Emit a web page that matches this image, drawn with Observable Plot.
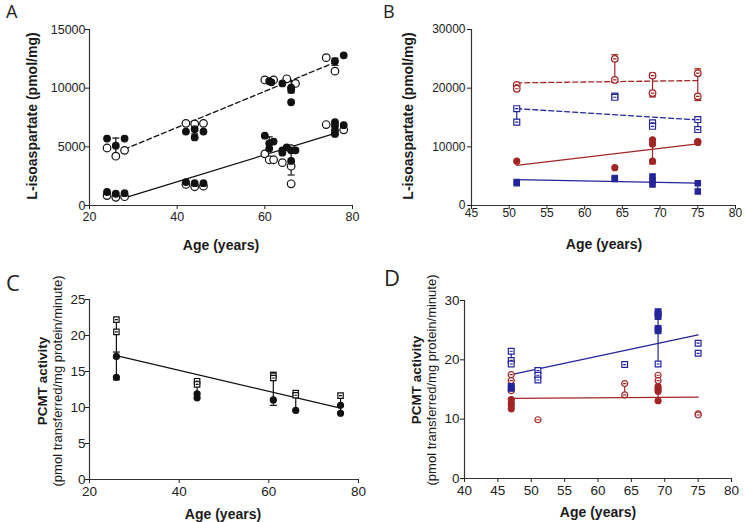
<!DOCTYPE html>
<html><head><meta charset="utf-8">
<script src="https://cdn.jsdelivr.net/npm/d3@7"></script>
<script src="https://cdn.jsdelivr.net/npm/@observablehq/plot@0.6"></script>
<style>
body{margin:0;background:#fff;}
#fig{position:relative;width:745px;height:522px;font-family:"Liberation Sans",Arial,sans-serif;color:#1a1a1a;overflow:hidden;background:#fff}
.panel{position:absolute}
.letter{position:absolute;font-family:"Open Sans","Liberation Sans",sans-serif;line-height:1;color:#222}
.xt{position:absolute;font-weight:bold;font-size:14px;transform:translate(-50%,-50%);white-space:nowrap;line-height:1}
.yt{position:absolute;transform:translate(-50%,-50%) rotate(-90deg);white-space:nowrap;text-align:center}
</style></head>
<body>
<div id="fig">
  <div class="panel" id="pA" style="left:0;top:0"></div>
  <div class="panel" id="pB" style="left:372px;top:0"></div>
  <div class="panel" id="pC" style="left:0;top:260px"></div>
  <div class="panel" id="pD" style="left:372px;top:260px"></div>
  <div class="letter" style="left:6px;top:2px;font-size:18px">A</div>
  <div class="letter" style="left:383px;top:2px;font-size:18px">B</div>
  <div class="letter" style="left:6px;top:271px;font-size:22px">C</div>
  <div class="letter" style="left:384px;top:266px;font-size:22px">D</div>
  <div class="yt" style="left:32px;top:116px;font-weight:bold;font-size:14px">L-isoaspartate (pmol/mg)</div>
  <div class="yt" style="left:408px;top:116px;font-weight:bold;font-size:14px">L-isoaspartate (pmol/mg)</div>
  <div class="yt" style="left:50px;top:381px;line-height:14.5px"><div style="font-weight:bold;font-size:13.5px">PCMT activity</div><div style="font-size:13px">(pmol transferred/mg protein/minute)</div></div>
  <div class="yt" style="left:424px;top:380px;line-height:14.5px"><div style="font-weight:bold;font-size:13.5px">PCMT activity</div><div style="font-size:13px">(pmol transferred/mg protein/minute)</div></div>
  <div class="xt" style="left:221px;top:245px">Age (years)</div>
  <div class="xt" style="left:604px;top:244px">Age (years)</div>
  <div class="xt" style="left:223px;top:514px">Age (years)</div>
  <div class="xt" style="left:598px;top:512px">Age (years)</div>
</div>
<script>
// ---------- Panel A data: [age, L-isoaspartate] ----------
const aUpperFilled = [[24,5700],[26,5100],[28,5700],[42,6300],[44,5800],[44,6500],[46,6300],[61,10600],[61.5,10500],[64,10400],[66,10050],[66,9850],[66,8800],[76,12300],[78,12800]];
const aUpperOpen   = [[24,4900],[26,4200],[28,4700],[42,7000],[44,6950],[46,7000],[60,10700],[62,10700],[65,10800],[67,10400],[74,12600],[76,11450]];
const aLowerFilled = [[24,1150],[26,1000],[28,1050],[42,2000],[44,1900],[46,1900],[60,5950],[61,5300],[61,4850],[62,5450],[64,4700],[64,4500],[65,4950],[66,4700],[66,3800],[67,4700],[76,7100],[76,6800],[76,6400],[76,6100],[78,6850]];
const aLowerOpen   = [[24,850],[26,700],[28,750],[42,1800],[44,1600],[46,1650],[60,4400],[61,3900],[62,3900],[64,3650],[66,4850],[66,3350],[66,1850],[74,6900],[78,6450]];
const aFitDashed = [[28,4800],[76,12200]];
const aFitSolid  = [[28,650],[76,6150]];
const aErr = [[26,4400,5750],[44,6100,7150],[66,9600,10600],[76,11950,12550],[61,4800,5850],[66,2600,5050]];

// ---------- Panel B data ----------
const bRedOpen    = [[51,20550],[51,19900],[64,25000],[64,21400],[69,22150],[69,19150],[75,22550],[75,18600]];
const bRedFilled  = [[51,7550],[64,6450],[69,11200],[69,10500],[69,7550],[75,10900],[75,10750]];
const bBlueOpen   = [[51,16500],[51,14200],[64,18650],[64,18450],[69,14100],[69,13500],[75,14650],[75,12950]];
const bBlueFilled = [[51,4000],[51,3800],[64,4700],[64,4500],[69,4950],[69,4300],[69,3600],[75,3800],[75,2400]];
const bRedDashFit  = [[51,20900],[75,21300]];
const bRedFit      = [[51,6850],[75,10500]];
const bBlueDashFit = [[51,16500],[75,14600]];
const bBlueFit     = [[51,4400],[75,3800]];
const bRedErr   = [[64,21000,25700],[69,18500,22550],[75,17900,23300],[69,7100,11300]];
const bBlueLink = [[51,14200,16500],[69,13500,14100],[75,12950,14650],[69,3600,4950],[75,2400,3800]];

// ---------- Panel C data ----------
const cOpen   = [[26,22.2],[26,20.5],[44,13.65],[44,13.2],[61,14.4],[61,14.1],[66,12.0],[66,11.7],[76,11.65]];
const cFilled = [[26,17.1],[26,14.2],[44,11.9],[44,11.35],[61,11.05],[66,9.6],[76,10.3],[76,9.2]];
const cFit  = [[26,17.2],[76,9.9]];
const cErr  = [[26,13.85,17.7],[61,10.3,14.9]];
const cLink = [[26,17.7,22.2],[44,11.35,13.65],[66,9.6,12.0],[76,9.2,11.65]];

// ---------- Panel D data ----------
const dBlueOpen   = [[47,21.45],[47,19.9],[47,19.3],[51,18.2],[51,17.4],[51,16.6],[64,19.2],[69,19.3],[75,22.8],[75,21.1]];
const dBlueFilled = [[47,15.5],[47,15.2],[69,28.1],[69,27.7],[69,27.3],[69,25.3],[69,24.9]];
const dRedOpen    = [[47,17.5],[47,16.5],[47,14.8],[51,9.9],[64,16.0],[64,14.1],[69,17.4],[69,16.5],[75,10.9],[75,10.7]];
const dRedFilled  = [[47,13.3],[47,12.75],[47,12.3],[47,11.75],[69,15.5],[69,15.1],[69,14.7],[69,13.1]];
const dBlueFit = [[47,17.5],[75,24.2]];
const dRedFit  = [[47,13.5],[75,13.7]];
const dBlueLink = [[47,19.3,21.45],[51,16.6,18.2],[69,19.3,28.1]];
const dRedLink  = [[64,14.1,16.0],[69,13.1,17.4]];

// ---------- axes ----------
const aXTicks = [20,40,60,80], aYTicks = [0,5000,10000,15000];
const bXTicks = [45,50,55,60,65,70,75,80], bYTicks = [0,10000,20000,30000];
const cXTicks = [20,40,60,80], cYTicks = [0,5,10,15,20,25];
const dXTicks = [40,45,50,55,60,65,70,75,80], dYTicks = [0,10,20,30];

const RED = "#a12626", BLUE = "#25259a", BLACK = "#111";
const X = d => d[0], Y = d => d[1], LO = d => d[1], HI = d => d[2];

const capSym = {draw(ctx, size){const w = Math.sqrt(size/Math.PI); ctx.moveTo(-w,0); ctx.lineTo(w,0);}};
const sqMid = {draw(ctx, size){const h = Math.sqrt(size/Math.PI)*0.9;
  ctx.moveTo(-h,-h); ctx.lineTo(h,-h); ctx.lineTo(h,h); ctx.lineTo(-h,h); ctx.closePath();
  ctx.moveTo(-h*0.55,0); ctx.lineTo(h*0.55,0);}};
const ciMid = {draw(ctx, size){const r = Math.sqrt(size/Math.PI);
  ctx.moveTo(r,0); ctx.arc(0,0,r,0,2*Math.PI); ctx.moveTo(-r*0.55,0); ctx.lineTo(r*0.55,0);}};

function errMarks(arr, color, r, caps) {
  const m = [Plot.ruleX(arr, {x: X, y1: LO, y2: HI, stroke: color, strokeWidth: 1.2})];
  if (caps) {
    m.push(Plot.dot(arr, {x: X, y: LO, symbol: capSym, r, stroke: color, fill: "none", strokeWidth: 1.2}));
    m.push(Plot.dot(arr, {x: X, y: HI, symbol: capSym, r, stroke: color, fill: "none", strokeWidth: 1.2}));
  }
  return m;
}
function fit(arr, color, dashed) {
  return Plot.line(arr, {x: X, y: Y, stroke: color, strokeWidth: 1.3, strokeDasharray: dashed ? "5,3" : null});
}
function pts(arr, color, symbol, filled, r) {
  return Plot.dot(arr, {x: X, y: Y, symbol, r, stroke: color, fill: filled ? color : "white", strokeWidth: 1.2});
}

function panel(o) {
  return Plot.plot({
    width: o.width, height: o.height,
    marginLeft: o.ml, marginRight: o.mr, marginTop: o.mt, marginBottom: o.mb,
    style: {fontFamily: "Liberation Sans, Arial, sans-serif", fontSize: o.fs, color: "#222", background: "transparent", overflow: "visible"},
    x: {domain: [o.xt[0], o.xt[o.xt.length-1]], ticks: o.xt, tickFormat: "d", tickSize: 4, tickPadding: o.xpad, label: null},
    y: {domain: [o.yt[0], o.yt[o.yt.length-1]], ticks: o.yt, tickFormat: "d", tickSize: 4, tickPadding: o.ypad, label: null},
    marks: [
      Plot.ruleX([o.xt[0]], {stroke: "#333", strokeWidth: 1.2}),
      Plot.ruleY([o.yt[0]], {stroke: "#333", strokeWidth: 1.2}),
      ...o.marks
    ]
  });
}

document.getElementById("pA").append(panel({
  width: 372, height: 260, ml: 89, mr: 20, mt: 29, mb: 55, fs: "12.5px", xpad: 3, ypad: 0,
  xt: aXTicks, yt: aYTicks,
  marks: [
    fit(aFitDashed, BLACK, true), fit(aFitSolid, BLACK, false),
    ...errMarks(aErr, BLACK, 3.5, true),
    pts(aUpperOpen, BLACK, "circle", false, 3.8), pts(aLowerOpen, BLACK, "circle", false, 3.8),
    pts(aUpperFilled, BLACK, "circle", true, 3.3), pts(aLowerFilled, BLACK, "circle", true, 3.3)
  ]
}));

document.getElementById("pB").append(panel({
  width: 373, height: 260, ml: 99, mr: 10, mt: 29, mb: 55, fs: "12px", xpad: -1, ypad: 2,
  xt: bXTicks, yt: bYTicks,
  marks: [
    fit(bRedDashFit, RED, true), fit(bBlueDashFit, BLUE, true), fit(bRedFit, RED, false), fit(bBlueFit, BLUE, false),
    ...errMarks(bRedErr, RED, 3.5, true), ...errMarks(bBlueLink, BLUE, 3, false),
    pts(bRedOpen, RED, ciMid, false, 3.3), pts(bBlueOpen, BLUE, sqMid, false, 3.3),
    pts(bRedFilled, RED, "circle", true, 3), pts(bBlueFilled, BLUE, "square", true, 3)
  ]
}));

document.getElementById("pC").append(panel({
  width: 372, height: 262, ml: 89, mr: 14, mt: 39, mb: 43, fs: "13.5px", xpad: 3, ypad: 0,
  xt: cXTicks, yt: cYTicks,
  marks: [
    fit(cFit, BLACK, false),
    ...errMarks(cErr, BLACK, 3.5, true), ...errMarks(cLink, BLACK, 3, false),
    pts(cOpen, BLACK, sqMid, false, 3), pts(cFilled, BLACK, "circle", true, 3)
  ]
}));

document.getElementById("pD").append(panel({
  width: 373, height: 262, ml: 92, mr: 14, mt: 40, mb: 44, fs: "13.5px", xpad: 3, ypad: 1,
  xt: dXTicks, yt: dYTicks,
  marks: [
    fit(dBlueFit, BLUE, false), fit(dRedFit, RED, false),
    ...errMarks(dBlueLink, BLUE, 3, false), ...errMarks(dRedLink, RED, 3, false),
    pts(dBlueOpen, BLUE, sqMid, false, 3.2), pts(dRedOpen, RED, ciMid, false, 3),
    pts(dBlueFilled, BLUE, "square", true, 3.2), pts(dRedFilled, RED, "circle", true, 3)
  ]
}));
</script>
</body></html>
